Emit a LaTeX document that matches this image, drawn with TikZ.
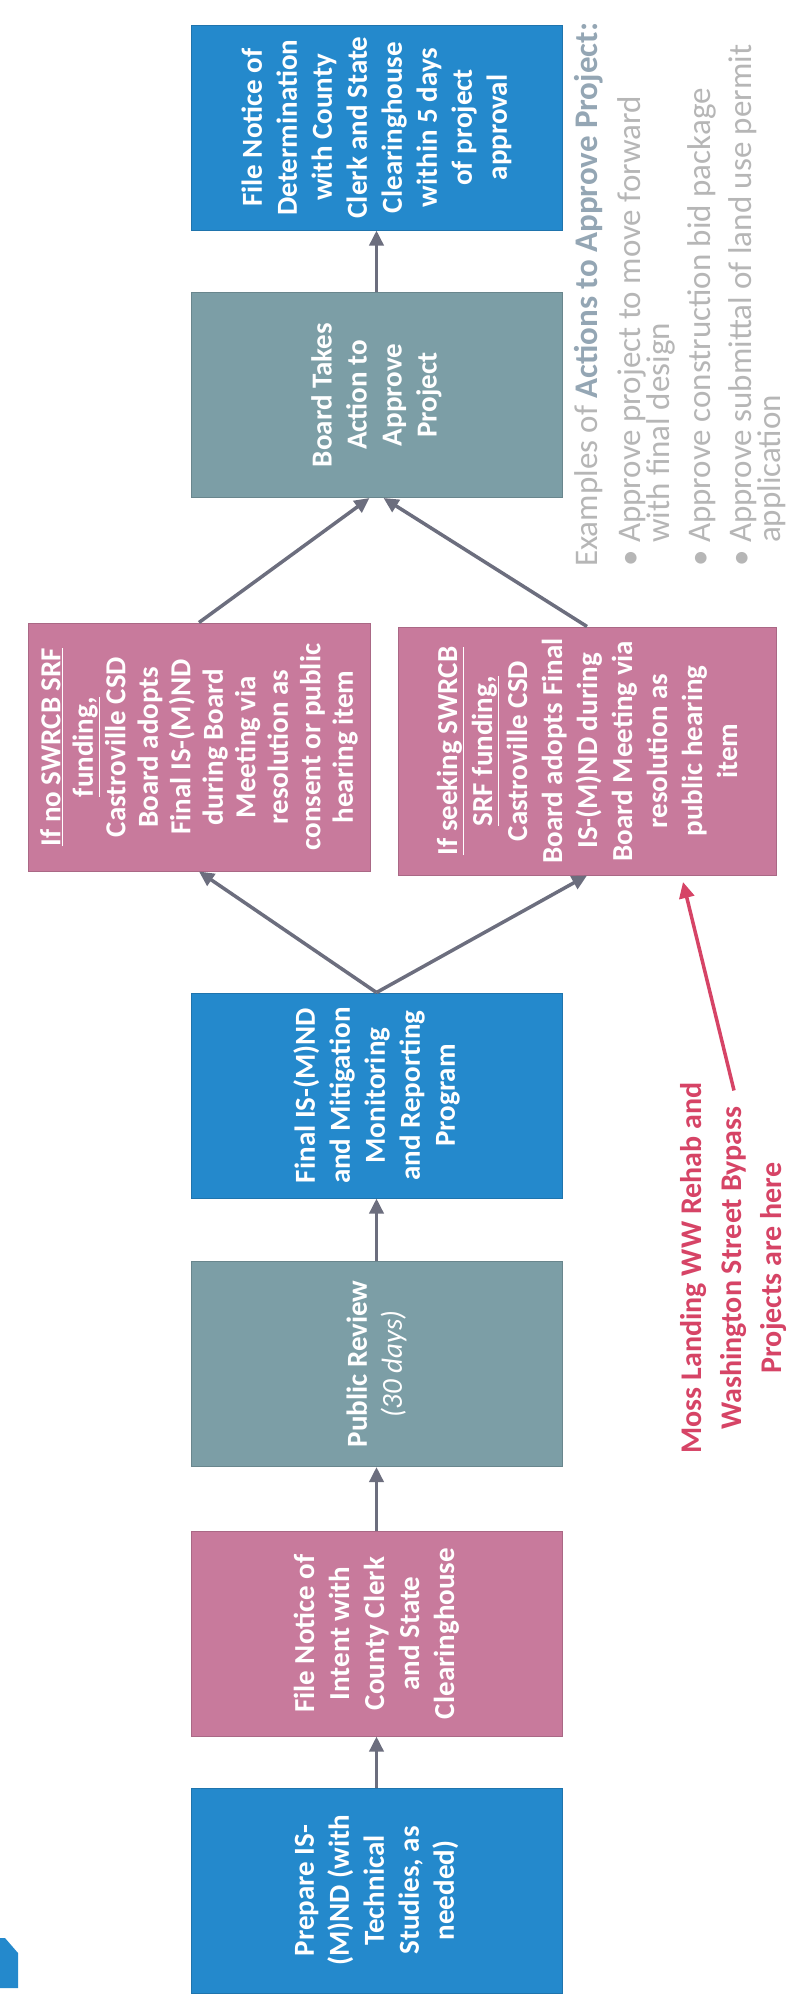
\documentclass[tikz,border=0pt]{standalone}
\usepackage{fontspec}
\setmainfont{Carlito}
\usetikzlibrary{arrows.meta,calc}
\definecolor{cblue}{RGB}{36,137,204}
\definecolor{cpink}{RGB}{200,122,156}
\definecolor{cteal}{RGB}{124,158,166}
\definecolor{carrow}{RGB}{108,110,126}
\definecolor{cred}{RGB}{214,68,102}
\definecolor{cgraytxt}{RGB}{182,182,182}
\definecolor{cgrayhead}{RGB}{148,166,180}
\tikzset{
  flowbox/.style={rotate=90, inner sep=0pt, align=center, text=white,
    font=\bfseries\fontsize{29}{35}\selectfont,
    fill=#1, draw=#1!85!black, line width=1pt},
  mainbox/.style={flowbox=#1, minimum width=205pt, minimum height=371pt},
  pinkbox/.style={flowbox=cpink, minimum width=248pt},
  flowarrow/.style={draw=carrow, line width=3.5pt,
    -{Triangle[length=15pt,width=14pt]}},
  notearrow/.style={draw=cred, line width=3.5pt,
    -{Triangle[length=16pt,width=15pt]}},
  notetext/.style={rotate=90, align=center, text=cred, inner sep=0pt,
    font=\bfseries\fontsize{30}{40}\selectfont},
  examples/.style={rotate=90, align=left, inner sep=0pt, text=cgraytxt,
    font=\fontsize{33}{29}\selectfont}
}
\begin{document}
\begin{tikzpicture}[x=1pt,y=-1pt]
\useasboundingbox (0,0) rectangle (788,2000);
\clip (0,0) rectangle (788,2000);
\fill[white] (0,0) rectangle (788,2000);

% partial shape at the lower left edge
\fill[cblue] (0,1938) -- (5,1938) -- (18,1953) -- (18,1988) -- (0,1988) -- cycle;

% main flow
\node[mainbox=cblue] (b1) at (376.5,1890.5) {Prepare IS-\\(M)ND (with\\Technical\\Studies, as\\needed)};
\node[mainbox=cpink] (b2) at (376.5,1633.5) {File Notice of\\Intent with\\County Clerk\\and State\\Clearinghouse};
\node[mainbox=cteal] (b3) at (376.5,1364) {Public Review\\{\mdseries\itshape (30 days)}};
\node[mainbox=cblue] (b4) at (376.5,1095.5) {Final IS-(M)ND\\and Mitigation\\Monitoring\\and Reporting\\Program};
\node[pinkbox, minimum height=342pt, font=\bfseries\fontsize{29}{32.5}\selectfont] (b5a) at (199,747)
  {\underline{If no SWRCB SRF}\\\underline{funding,}\\Castroville CSD\\Board adopts\\Final IS-(M)ND\\during Board\\Meeting via\\resolution as\\consent or public\\hearing item};
\node[pinkbox, minimum height=378pt] (b5b) at (587,751)
  {\underline{If seeking SWRCB}\\\underline{SRF funding,}\\Castroville CSD\\Board adopts Final\\IS-(M)ND during\\Board Meeting via\\resolution as\\public hearing\\item};
\node[mainbox=cteal] (b6) at (376.5,395) {Board Takes\\Action to\\Approve\\Project};
\node[mainbox=cblue] (b7) at (376.5,127.5) {File Notice of\\Determination\\with County\\Clerk and State\\Clearinghouse\\within 5 days\\of project\\approval};

% connectors
\draw[flowarrow] (b1.east) -- (b2.west);
\draw[flowarrow] (b2.east) -- (b3.west);
\draw[flowarrow] (b3.east) -- (b4.west);
\draw[flowarrow] (b4.east) -- (b5a.west);
\draw[flowarrow] (b4.east) -- (b5b.west);
\draw[flowarrow] (b5a.east) -- ($(b6.west)+(-7,0)$);
\draw[flowarrow] (b5b.east) -- ($(b6.west)+(7,0)$);
\draw[flowarrow] (b6.east) -- (b7.west);

% note
\node[notetext] (note) at (734,1268) {Moss Landing WW Rehab and\\Washington Street Bypass\\Projects are here};
\coordinate (notetip) at (683,882);
\draw[notearrow] ($(note.east)+(0,8)$) -- (notetip);

% examples text
\node[examples, anchor=north west] (ex) at (574,567)
  {Examples of {\bfseries\color{cgrayhead}Actions to Approve Project:}\\[14pt]
   \makebox[24pt][l]{\textbullet}Approve project to move forward\\
   \makebox[24pt][l]{}with final design\\[12pt]
   \makebox[24pt][l]{\textbullet}Approve construction bid package\\[12pt]
   \makebox[24pt][l]{\textbullet}Approve submittal of land use permit\\
   \makebox[24pt][l]{}application};
\end{tikzpicture}
\end{document}
